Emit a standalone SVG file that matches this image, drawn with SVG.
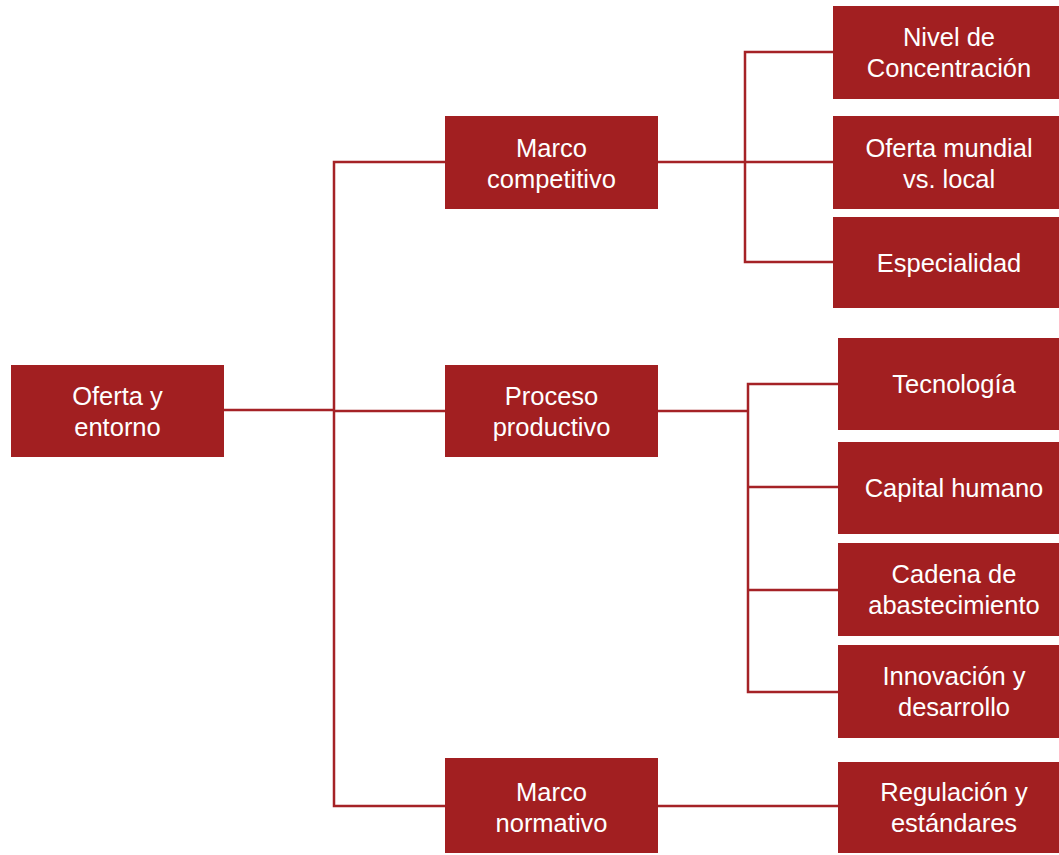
<svg xmlns="http://www.w3.org/2000/svg" width="1059" height="855" viewBox="0 0 1059 855">
<style>
.box{fill:#A21F21}
.t{font-family:"Liberation Sans",Arial,sans-serif;font-size:25.5px;fill:#FFFFFF;text-anchor:middle}
.c{fill:none;stroke:#A52226;stroke-width:2.5;stroke-linecap:square}
</style>
<rect width="1059" height="855" fill="#FFFFFF"/>
<g id="connectors">
<path class="c" d="M224 410H334M334 162V806M334 162H445M334 411H445M334 806H445"/>
<path class="c" d="M658 162H745M745 52V262M745 52H833M745 162H833M745 262H833"/>
<path class="c" d="M658 411H748M748 384V692M748 384H838M748 487H838M748 590H838M748 692H838"/>
<path class="c" d="M658 806H838"/>
</g>
<g id="n-root"><rect class="box" x="11" y="365" width="213" height="92"/><text class="t" x="117.5" y="405">Oferta y</text><text class="t" x="117.5" y="436">entorno</text></g>
<g id="n-competitivo"><rect class="box" x="445" y="116" width="213" height="93"/><text class="t" x="551.5" y="156.5">Marco</text><text class="t" x="551.5" y="187.5">competitivo</text></g>
<g id="n-productivo"><rect class="box" x="445" y="365" width="213" height="92"/><text class="t" x="551.5" y="405">Proceso</text><text class="t" x="551.5" y="436">productivo</text></g>
<g id="n-normativo"><rect class="box" x="445" y="758" width="213" height="95"/><text class="t" x="551.5" y="801">Marco</text><text class="t" x="551.5" y="832">normativo</text></g>
<g id="n-concentracion"><rect class="box" x="833" y="6" width="226" height="93"/><text class="t" x="949" y="46">Nivel de</text><text class="t" x="949" y="77">Concentración</text></g>
<g id="n-oferta"><rect class="box" x="833" y="116" width="226" height="93"/><text class="t" x="949" y="156.5">Oferta mundial</text><text class="t" x="949" y="187.5">vs. local</text></g>
<g id="n-especialidad"><rect class="box" x="833" y="217" width="226" height="91"/><text class="t" x="949" y="272">Especialidad</text></g>
<g id="n-tecnologia"><rect class="box" x="838" y="338" width="221" height="92"/><text class="t" x="954" y="393">Tecnología</text></g>
<g id="n-capital"><rect class="box" x="838" y="442" width="221" height="92"/><text class="t" x="954" y="497">Capital humano</text></g>
<g id="n-cadena"><rect class="box" x="838" y="543" width="221" height="93"/><text class="t" x="954" y="583">Cadena de</text><text class="t" x="954" y="614">abastecimiento</text></g>
<g id="n-innovacion"><rect class="box" x="838" y="645" width="221" height="93"/><text class="t" x="954" y="685">Innovación y</text><text class="t" x="954" y="716">desarrollo</text></g>
<g id="n-regulacion"><rect class="box" x="838" y="762" width="221" height="91"/><text class="t" x="954" y="801">Regulación y</text><text class="t" x="954" y="832">estándares</text></g>
</svg>
